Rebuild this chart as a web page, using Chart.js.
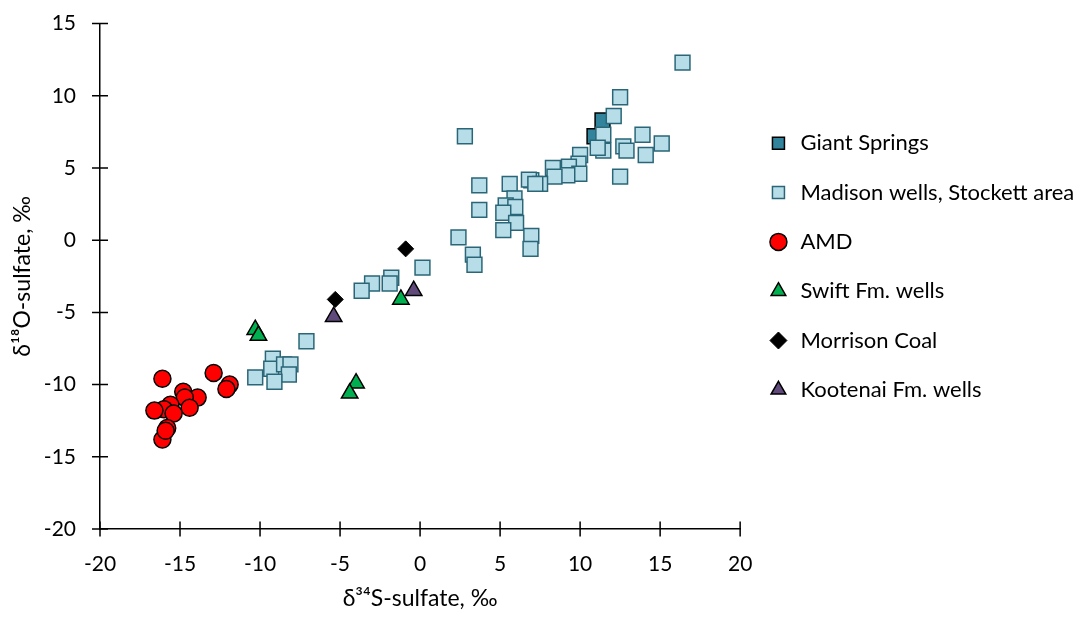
<!DOCTYPE html>
<html>
<head>
<meta charset="utf-8">
<script src="https://cdn.jsdelivr.net/npm/chart.js@4"></script>
<style>
  body { margin: 0; background: #fff; }
</style>
</head>
<body>
<canvas id="chart" width="1081" height="620"></canvas>
<script>
// values (δ34S, δ18O)
const giantX = [11.4, 10.9];
const giantY = [8.3, 7.2];

const madisonX = [16.4, 12.5, 12.1, 11.45, 13.9, 15.1, 12.7, 12.9, 14.1, 11.45, 11.1, 10.0, 9.9, 9.3, 9.95, 9.2, 8.3, 8.4, 12.5, 6.95, 6.8, 7.5, 7.2, 5.6, 3.7, 2.8, 5.9, 5.35, 5.95, 5.2, 3.7, 6.0, 5.2, 6.95, 6.9, 2.4, 3.3, 3.4, 0.15, -1.8, -1.9, -3.0, -3.65, -7.1, -9.2, -9.3, -8.5, -8.1, -8.2, -9.1, -10.3];
const madisonY = [12.3, 9.9, 8.6, 7.3, 7.3, 6.7, 6.5, 6.2, 5.9, 6.2, 6.4, 5.9, 5.3, 5.1, 4.6, 4.5, 5.0, 4.4, 4.4, 4.15, 4.2, 3.9, 3.9, 3.9, 3.8, 7.2, 2.9, 2.4, 2.3, 1.9, 2.1, 1.2, 0.7, 0.3, -0.6, 0.2, -1.0, -1.7, -1.9, -2.6, -3.0, -3.0, -3.5, -7.0, -8.2, -8.9, -8.6, -8.6, -9.3, -9.8, -9.5];

const amdX = [-16.1, -12.9, -11.9, -12.1, -14.8, -13.9, -14.7, -14.4, -15.6, -16.0, -16.6, -15.4, -15.8, -16.1, -15.9];
const amdY = [-9.6, -9.2, -10.0, -10.3, -10.5, -10.9, -10.9, -11.6, -11.4, -11.7, -11.8, -12.0, -13.0, -13.8, -13.2];

const swiftX = [-1.2, -10.3, -10.1, -4.0, -4.4];
const swiftY = [-4.1, -6.2, -6.6, -9.9, -10.6];

const morrisonX = [-0.9, -5.3];
const morrisonY = [-0.6, -4.1];

const kootenaiX = [-0.4, -5.4];
const kootenaiY = [-3.5, -5.3];

const xTicks = [-20, -15, -10, -5, 0, 5, 10, 15, 20];
const yTicks = [-20, -15, -10, -5, 0, 5, 10, 15];

function pts(xs, ys){
    return xs.map((x, i) => ({x: x, y: ys[i]}));
}

const font = 'Lato, "Open Sans", sans-serif';

// excel style "cross" tick marks, both halves drawn here
const crossTicks = {
    id: 'crossTicks',
    afterDraw(chart){
        const ctx = chart.ctx;
        const x = chart.scales.x, y = chart.scales.y;
        const area = chart.chartArea;
        ctx.save();
        ctx.strokeStyle = '#000';
        ctx.lineWidth = 1.5;
        ctx.beginPath();
        x.ticks.forEach(t => {
            const px = x.getPixelForValue(t.value);
            ctx.moveTo(px, area.bottom + 7.5);
            ctx.lineTo(px, area.bottom - 7.5);
        });
        y.ticks.forEach(t => {
            const py = y.getPixelForValue(t.value);
            ctx.moveTo(area.left - 8, py);
            ctx.lineTo(area.left + 8, py);
        });
        ctx.stroke();
        ctx.restore();
    }
};

new Chart(document.getElementById('chart'), {
    type: 'scatter',
    data: {
        datasets: [{
            label: 'Giant Springs',
            data: pts(giantX, giantY),
            pointStyle: 'rect',
            pointRadius: 10.5,
            backgroundColor: '#31849b',
            borderColor: '#000',
            borderWidth: 1.5,
            order: 1
        }, {
            label: 'Madison wells, Stockett area',
            data: pts(madisonX, madisonY),
            pointStyle: 'rect',
            pointRadius: 10.5,
            backgroundColor: '#b7dee8',
            borderColor: '#2a6677',
            borderWidth: 1.5
        }, {
            label: 'AMD',
            data: pts(amdX, amdY),
            pointStyle: 'circle',
            pointRadius: 8.5,
            backgroundColor: '#ff0000',
            borderColor: '#000',
            borderWidth: 1.5
        }, {
            label: 'Swift Fm. wells',
            data: pts(swiftX, swiftY),
            pointStyle: 'triangle',
            pointRadius: 9.5,
            backgroundColor: '#00b050',
            borderColor: '#000',
            borderWidth: 1.5
        }, {
            label: 'Morrison Coal',
            data: pts(morrisonX, morrisonY),
            pointStyle: 'rectRot',
            pointRadius: 8,
            backgroundColor: '#000',
            borderColor: '#000',
            borderWidth: 1
        }, {
            label: 'Kootenai Fm. wells',
            data: pts(kootenaiX, kootenaiY),
            pointStyle: 'triangle',
            pointRadius: 9.5,
            backgroundColor: '#604a7b',
            borderColor: '#000',
            borderWidth: 1.5
        }]
    },
    options: {
        responsive: false,
        animation: false,
        layout: {
            padding: {top: 20, right: -3.3, bottom: 0, left: 0}
        },
        plugins: {
            tooltip: {enabled: false},
            legend: {
                position: 'right',
                align: 'start',
                maxWidth: 500,
                title: {
                    display: true,
                    text: '',
                    font: {size: 10, lineHeight: 1},
                    padding: {top: 75, bottom: 0}
                },
                labels: {
                    usePointStyle: true,
                    boxHeight: 12,
                    padding: 27.3,
                    color: '#000',
                    font: {family: font, size: 22},
                    sort: (a, b) => a.datasetIndex - b.datasetIndex
                }
            }
        },
        scales: {
            x: {
                type: 'linear',
                min: -20,
                max: 20,
                afterBuildTicks: (scale) => { scale.ticks = xTicks.map(v => ({value: v})); },
                afterFit: (scale) => { scale.height = 91; },
                border: {color: '#000', width: 1.5},
                grid: {drawOnChartArea: false, drawTicks: true, tickLength: 7.5, color: 'rgba(0,0,0,0)'},
                ticks: {color: '#000', padding: 15, font: {family: font, size: 21}},
                title: {
                    display: true,
                    text: 'δ³⁴S-sulfate, ‰',
                    color: '#000',
                    font: {family: font, size: 23},
                    padding: {top: 0, bottom: 8}
                }
            },
            y: {
                type: 'linear',
                min: -20,
                max: 15,
                afterBuildTicks: (scale) => { scale.ticks = yTicks.map(v => ({value: v})); },
                afterFit: (scale) => { scale.width = 100; },
                border: {color: '#000', width: 1.5},
                grid: {drawOnChartArea: false, drawTicks: true, tickLength: 13, color: 'rgba(0,0,0,0)'},
                ticks: {color: '#000', padding: 11, font: {family: font, size: 21}},
                title: {
                    display: true,
                    text: 'δ¹⁸O-sulfate, ‰',
                    color: '#000',
                    font: {family: font, size: 23},
                    padding: {top: 9, bottom: 0}
                }
            }
        }
    },
    plugins: [crossTicks]
});
</script>
</body>
</html>
